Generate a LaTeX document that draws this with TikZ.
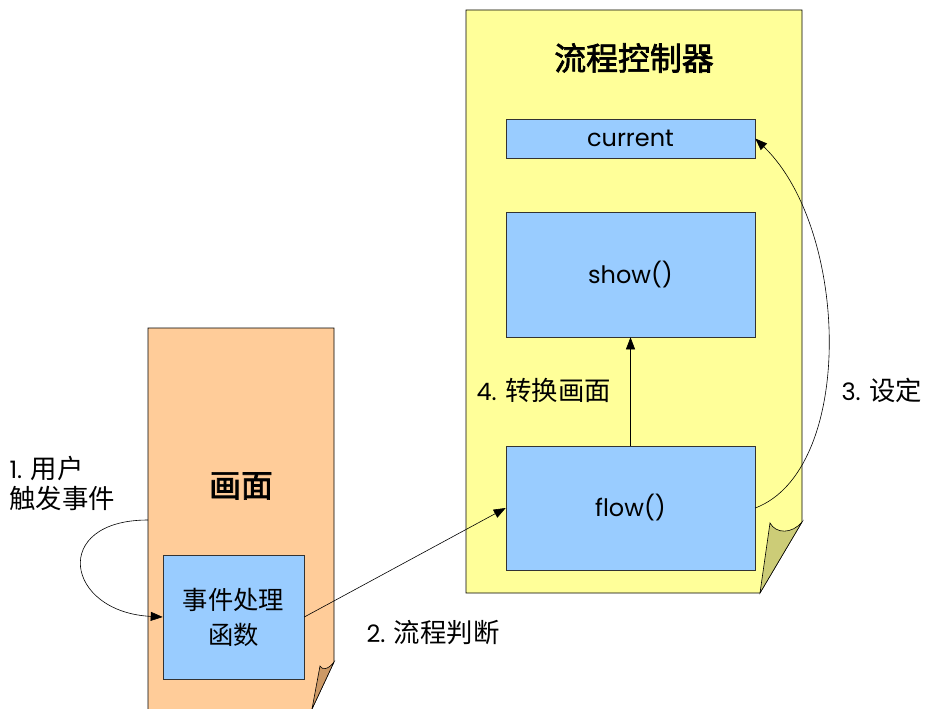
\documentclass[tikz,border=0pt]{standalone}
\usepackage{fontspec}
\setmainfont{Poppins}
\newfontfamily\cjk[Scale=1.1]{Noto Sans CJK SC}
\newfontfamily\cjkbold[Scale=1.1,FakeBold=2.2]{Noto Sans CJK SC}
\usetikzlibrary{arrows.meta,positioning}
\definecolor{screenfill}{HTML}{FFCC99}
\definecolor{ctrlfill}{HTML}{FFFF99}
\definecolor{partfill}{HTML}{99CCFF}
\definecolor{screencurl}{HTML}{CC9966}
\definecolor{ctrlcurl}{HTML}{CCCC77}

\begin{document}
\begin{tikzpicture}[
    x=1pt,
    y=-1pt,
    every node/.style={font=\fontsize{24}{30}\selectfont},
    pagescreen/.style={draw=black, line width=0.6pt, fill=screenfill},
    pagectrl/.style={draw=black, line width=0.6pt, fill=ctrlfill},
    curlscreen/.style={draw=black, line width=0.6pt, fill=screencurl},
    curlctrl/.style={draw=black, line width=0.6pt, fill=ctrlcurl},
    part/.style={draw=black!80, line width=0.6pt, fill=partfill, inner sep=0pt},
    title/.style={font=\fontsize{29}{36}\selectfont\cjkbold},
    note/.style={align=left, anchor=west},
    flowarrow/.style={-{Triangle[length=12pt,width=9pt]}, draw=black, line width=0.6pt}
  ]
    \useasboundingbox (0,0) rectangle (929,709);

    % Screen page, cut by the lower edge, with a curled corner.
    \filldraw[pagescreen] (148,709) -- (148,328) -- (334,328) -- (334,662) -- (312,709);
    \filldraw[curlscreen] (334,662) .. controls (328,670) and (322,670) .. (320,666)
      -- (312,709) -- cycle;

    % Flow controller page.
    \filldraw[pagectrl] (466,593) -- (466,10) -- (802,10) -- (802,522) -- (760,593) -- cycle;
    \filldraw[curlctrl] (802,522) .. controls (792,534) and (776,534) .. (770,523)
      -- (760,593) -- cycle;

    % Titles.
    \node[title] (ctrltitle) at (634,58) {流程控制器};
    \node[title] (screentitle) at (241,486) {画面};

    % Parts.
    \node[part, minimum width=249pt, minimum height=39pt] (current) at (630.5,138.5) {current};
    \node[part, minimum width=249pt, minimum height=125pt] (show) at (630.5,274.5) {show()};
    \node[part, minimum width=249pt, minimum height=124pt] (flow) at (630.5,508) {flow()};
    \node[part, minimum width=141pt, minimum height=124pt, align=center,
      font=\fontsize{23}{35}\selectfont\cjk] (handler) at (233.5,617) {事件处理\\函数};

    % Connectors.
    \coordinate (edge) at (148,520);
    \draw[flowarrow] (edge) .. controls (50,520) and (65,612) .. (handler.west);
    \draw[flowarrow] (handler.east) -- (flow.west);
    \draw[flowarrow] (flow.east) .. controls (855,470) and (850,230) .. (current.east);
    \draw[flowarrow] (flow.north) -- (show.south);

    % Labels.
    \node[note] (lbluser) at (6,483) {1. {\cjk 用户}\\{\cjk 触发事件}};
    \node[note] (lbljudge) at (363,633) {2. {\cjk 流程判断}};
    \node[note] (lblset) at (838,390) {3. {\cjk 设定}};
    \node[note] (lblswitch) at (473,390) {4. {\cjk 转换画面}};
  \end{tikzpicture}
\end{document}
